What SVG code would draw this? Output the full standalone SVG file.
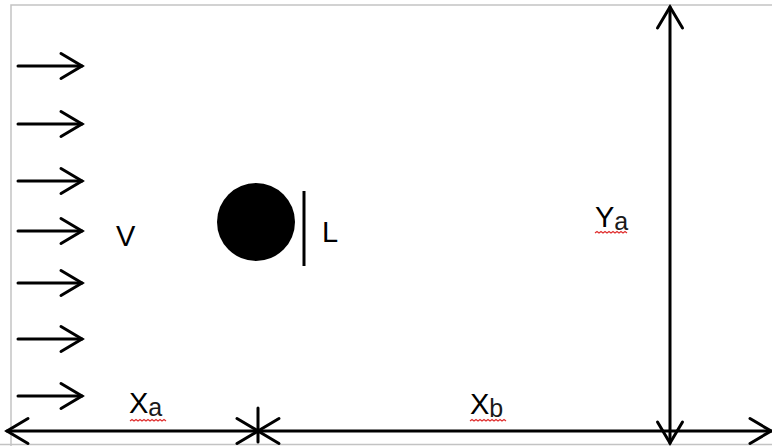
<svg xmlns="http://www.w3.org/2000/svg" width="772" height="446" viewBox="0 0 772 446">
  <defs>
    <style>
      .frame { fill: none; stroke: #c3c3c3; stroke-width: 1.5; }
      .arrow { fill: none; stroke: #000; stroke-width: 3; stroke-linecap: round; }
      .lbl { font-family: "Liberation Sans", Arial, sans-serif; font-size: 29px; fill: #000; }
      .sub { font-size: 25px; fill: #1a1a1a; }
      .squig { fill: none; stroke: #e03030; stroke-width: 1.2; }
    </style>
    <marker id="head" markerUnits="userSpaceOnUse" viewBox="0 0 26 28" refX="23" refY="14" markerWidth="26" markerHeight="28" orient="auto-start-reverse" overflow="visible">
      <path d="M2,1.5 L23,14 L2,26.5" fill="none" stroke="#000" stroke-width="3" stroke-linecap="round" stroke-linejoin="miter"/>
    </marker>
  </defs>
  <rect width="772" height="446" fill="#fff"/>
  <g id="frame">
    <path class="frame" d="M11,446 L11,5 L772,5"/>
    <path class="frame" d="M0,444.5 L772,444.5"/>
  </g>
  <g id="obstacle">
    <circle cx="256" cy="222" r="39" fill="#000"/>
  </g>
  <g id="length-bar">
    <line x1="304" y1="191" x2="304" y2="266" stroke="#000" stroke-width="3"/>
  </g>
  <g id="connectors">
    <line class="arrow" x1="18" y1="66" x2="82" y2="66" marker-end="url(#head)"/>
    <line class="arrow" x1="18" y1="124" x2="82" y2="124" marker-end="url(#head)"/>
    <line class="arrow" x1="18" y1="181" x2="82" y2="181" marker-end="url(#head)"/>
    <line class="arrow" x1="18" y1="231" x2="82" y2="231" marker-end="url(#head)"/>
    <line class="arrow" x1="18" y1="283" x2="82" y2="283" marker-end="url(#head)"/>
    <line class="arrow" x1="18" y1="339" x2="82" y2="339" marker-end="url(#head)"/>
    <line class="arrow" x1="18" y1="396" x2="82" y2="396" marker-end="url(#head)"/>
    <line class="arrow" x1="7" y1="431" x2="258" y2="431" marker-start="url(#head)" marker-end="url(#head)"/>
    <line class="arrow" x1="258" y1="431" x2="771" y2="431" marker-start="url(#head)" marker-end="url(#head)"/>
    <line class="arrow" x1="258" y1="408" x2="258" y2="442"/>
    <line class="arrow" x1="670" y1="7" x2="670" y2="443" marker-start="url(#head)" marker-end="url(#head)"/>
  </g>
  <g id="label-V">
    <text class="lbl" x="116" y="246">V</text>
  </g>
  <g id="label-L">
    <text class="lbl" x="322" y="242">L</text>
  </g>
  <g id="label-Xa">
    <text class="lbl" x="129" y="413">X<tspan class="sub" dy="3">a</tspan></text>
    <path class="squig" d="M130,421 l2,-1.5 l2,1.5 l2,-1.5 l2,1.5 l2,-1.5 l2,1.5 l2,-1.5 l2,1.5 l2,-1.5 l2,1.5 l2,-1.5 l2,1.5 l2,-1.5 l2,1.5 l2,-1.5 l2,1.5 l2,-1.5 l2,1.5"/>
  </g>
  <g id="label-Xb">
    <text class="lbl" x="470" y="414">X<tspan class="sub" dy="3">b</tspan></text>
    <path class="squig" d="M470,421 l2,-1.5 l2,1.5 l2,-1.5 l2,1.5 l2,-1.5 l2,1.5 l2,-1.5 l2,1.5 l2,-1.5 l2,1.5 l2,-1.5 l2,1.5 l2,-1.5 l2,1.5 l2,-1.5 l2,1.5 l2,-1.5 l2,1.5"/>
  </g>
  <g id="label-Ya">
    <text class="lbl" x="595" y="227">Y<tspan class="sub" dy="3">a</tspan></text>
    <path class="squig" d="M595,233 l2,-1.5 l2,1.5 l2,-1.5 l2,1.5 l2,-1.5 l2,1.5 l2,-1.5 l2,1.5 l2,-1.5 l2,1.5 l2,-1.5 l2,1.5 l2,-1.5 l2,1.5 l2,-1.5 l2,1.5"/>
  </g>
</svg>
